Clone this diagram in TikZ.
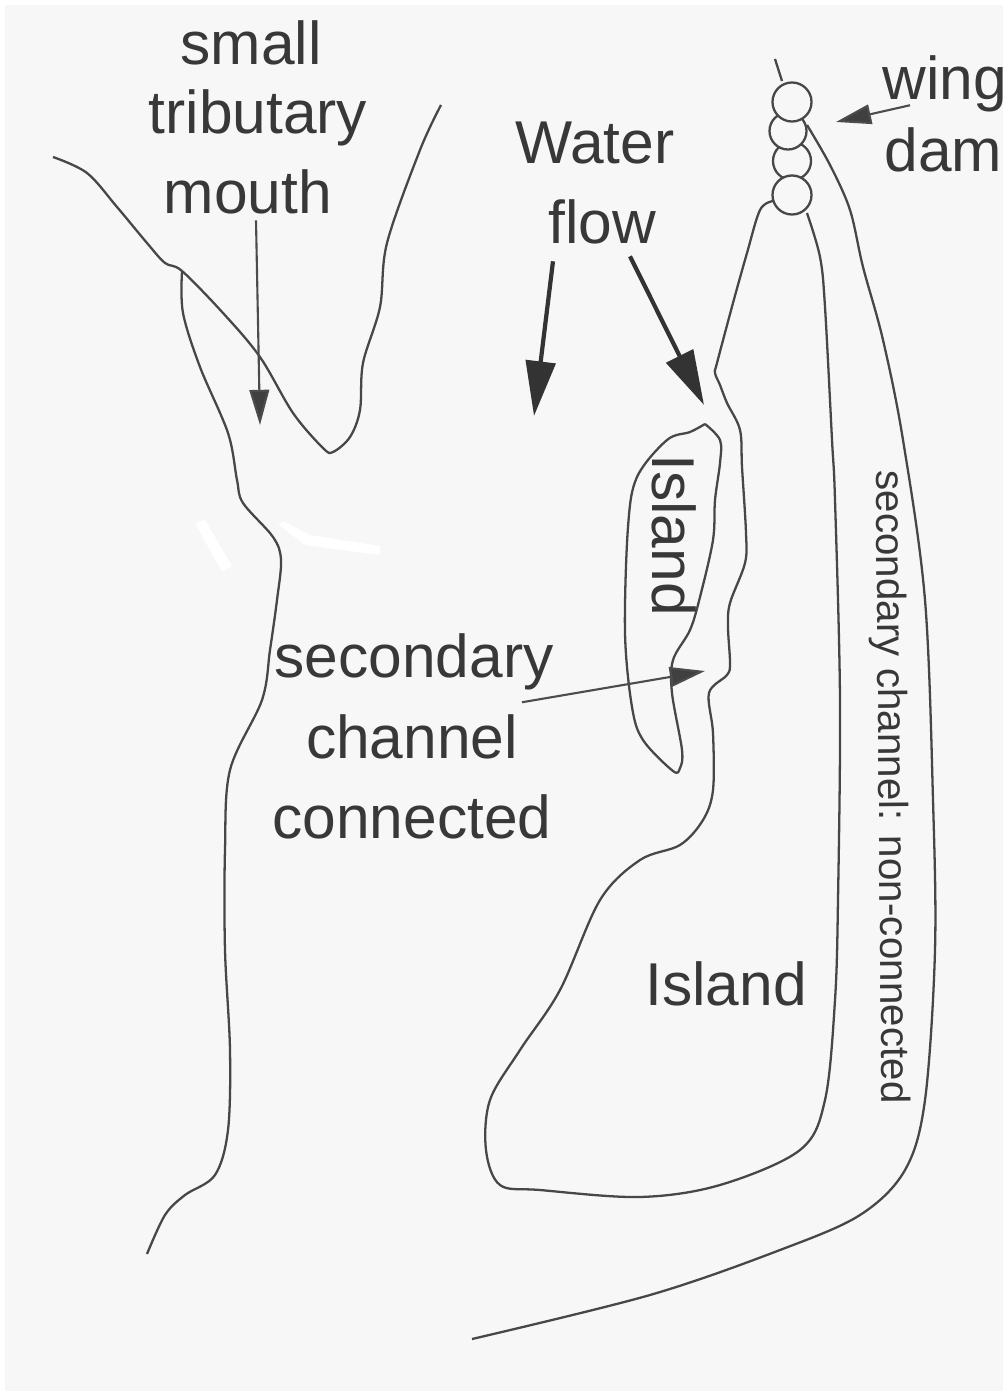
\documentclass[tikz,border=0pt]{standalone}
\usepackage{fontspec}
\setmainfont{Liberation Sans}
\usetikzlibrary{arrows.meta}
\tikzset{
  bankline/.style={draw=black!72,line width=0.65pt,smooth,tension=0.55},
  damcircle/.style={draw=black!72,line width=0.65pt,fill=black!3,circle,inner sep=0pt},
  bigtext/.style={anchor=base,inner sep=0pt,text=black!78,font=\fontsize{17.2}{20}\selectfont},
  smalltext/.style={anchor=base,inner sep=0pt,text=black!78,font=\fontsize{11.5}{14}\selectfont},
  thinarrow/.style={draw=black!70,line width=0.6pt,-{Triangle[length=10pt,width=5.6pt,fill=black!75]}},
  flowarrow/.style={draw=black!80,line width=1.2pt,-{Triangle[length=15.6pt,width=8.4pt,fill=black!80]}},
}
\begin{document}
\begin{tikzpicture}[x=0.01cm,y=-0.01cm]
  \useasboundingbox (0,0) rectangle (1003,1391);
  \fill[black!3] (5,5) rectangle (1003,1391);
  \fill[white] (195,523) -- (205,520) -- (232,566) -- (222,572) -- cycle;
  \fill[white] (278,524) -- (285,522) -- (310,535) -- (380,546) -- (380,555) -- (305,545) -- cycle;
  %
  % tributary
  \draw[bankline] plot coordinates {(53,157) (87,173) (117,207) (147,243) (165,263) (182,271)
    (223,313) (260,357) (293,413) (323,448) (333,452) (350,437) (360,410) (363,363)
    (380,307) (387,243) (420,150) (441,105)};
  % left bank
  \draw[bankline] plot coordinates {(182,272) (183,313) (200,367) (228,433) (237,480) (243,503)
    (273,537) (281,560) (277,600) (270,650) (262,700) (230,770) (225,850) (225,950)
    (230,1050) (228,1130) (215,1175) (185,1195) (165,1215) (147,1254)};
  %
  % big island
  \draw[bankline] plot coordinates {(773,201) (760,210) (747,253) (733,303) (717,363) (715,373)
    (720,385) (727,403) (740,430) (742,467) (746,533) (745,563) (730,603) (728,627)
    (730,663) (727,675) (709,693) (713,733) (713,790) (703,820) (680,845) (640,860)
    (600,900) (560,990) (520,1050) (490,1100) (486,1150) (500,1185) (540,1190)
    (640,1197) (720,1185) (800,1150) (825,1100) (835,1000) (838,900) (840,700)
    (835,500) (832,440) (825,307) (820,257) (807,213)};
  % outer bank
  \draw[bankline] plot coordinates {(807,125) (830,165) (850,210) (863,267) (883,340) (903,440)
    (925,600) (933,800) (935,950) (925,1100) (905,1170) (860,1215) (780,1250) (650,1295) (472,1339)};
  % small island
  \draw[bankline] plot coordinates {(705,424) (720,440) (720,463) (715,500) (713,540) (700,597)
    (690,630) (673,660) (672,693) (682,750) (680,768) (673,771) (643,740) (632,707)
    (625,633) (628,527) (637,477) (667,440) (690,432) (705,424)};
  %
  % wing dam
  \draw[bankline] (775,59) -- (782,81);
  \node[damcircle,minimum size=0.38cm] (damthree) at (792,161) {};
  \node[damcircle,minimum size=0.37cm] (damtwo) at (788,131) {};
  \node[damcircle,minimum size=0.39cm] (damone) at (792,102) {};
  \node[damcircle,minimum size=0.39cm] (damfour) at (792,195) {};
  %
  \node[bigtext] (small) at (251,65) {small};
  \node[bigtext] (tributary) at (258,134) {tributary};
  \node[bigtext] (mouth) at (248,213) {mouth};
  \node[bigtext] (water) at (595,163) {Water};
  \node[bigtext] (flow) at (602,243) {flow};
  \node[bigtext,anchor=base west] (wing) at (882,100) {wing};
  \node[bigtext,anchor=base west] (dam) at (884,172) {dam};
  \node[bigtext] (secondary) at (414,677) {secondary};
  \node[bigtext] (channel) at (412,758) {channel};
  \node[bigtext] (connected) at (412,838) {connected};
  \node[bigtext] (bigisland) at (726,1005) {Island};
  \node[bigtext,rotate=-90] (smallisland) at (652,535) {Island};
  \node[smalltext,rotate=-89.46] (noncon) at (879,787) {secondary channel: non-connected};
  %
  \coordinate (mouthtip) at (260,425);
  \coordinate (leftflowtip) at (534,416);
  \coordinate (rightflowtip) at (704,405);
  \coordinate (damtip) at (836,122);
  \coordinate (channeltip) at (705,671);
  %
  \draw[thinarrow] ([shift={(8,6)}]mouth.south) -- (mouthtip);
  \draw[flowarrow] ([shift={(-49,17)}]flow.south) -- (leftflowtip);
  \draw[flowarrow] ([shift={(28,12)}]flow.south) -- (rightflowtip);
  \draw[thinarrow] ([shift={(28,-8)}]wing.south west) -- (damtip);
  \draw[thinarrow] ([shift={(108,12)}]secondary.south) -- (channeltip);
  %
\end{tikzpicture}
\end{document}
